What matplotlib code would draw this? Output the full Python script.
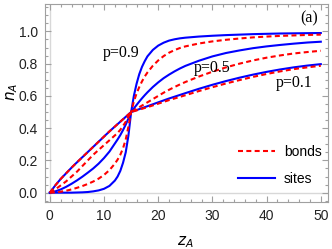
import matplotlib
matplotlib.use("Agg")
import matplotlib.pyplot as plt
from matplotlib.ticker import MultipleLocator
from matplotlib.lines import Line2D

# values
z_a = [0, 1, 2, 3, 4, 5, 6, 7, 8, 9, 10, 11, 12, 12.5, 13, 13.5, 14, 14.5, 15,
       15.5, 16, 16.5, 17, 17.5, 18, 19, 20, 21, 22, 23, 24, 25, 27.5, 30, 32.5,
       35, 37.5, 40, 42.5, 45, 47.5, 50]

sites_p01 = [0, 0.045, 0.085, 0.12, 0.155, 0.188, 0.22, 0.252, 0.284, 0.316, 0.348,
             0.38, 0.41, 0.425, 0.44, 0.455, 0.47, 0.485, 0.5,
             0.506, 0.512, 0.518, 0.524, 0.53, 0.536, 0.548, 0.56, 0.572, 0.584, 0.595,
             0.606, 0.617, 0.644, 0.669, 0.692, 0.713, 0.732, 0.749, 0.764, 0.777,
             0.788, 0.797]
bonds_p01 = [0, 0.045, 0.085, 0.12, 0.155, 0.188, 0.22, 0.252, 0.284, 0.316, 0.348,
             0.38, 0.41, 0.425, 0.44, 0.455, 0.47, 0.485, 0.5,
             0.505, 0.51, 0.515, 0.52, 0.525, 0.53, 0.541, 0.552, 0.563, 0.574, 0.584,
             0.594, 0.604, 0.63, 0.654, 0.677, 0.698, 0.718, 0.736, 0.752, 0.766,
             0.777, 0.787]
sites_p05 = [0, 0.008, 0.02, 0.036, 0.055, 0.076, 0.099, 0.124, 0.15, 0.18, 0.215,
             0.255, 0.305, 0.33, 0.357, 0.388, 0.422, 0.46, 0.5,
             0.522, 0.544, 0.565, 0.585, 0.604, 0.622, 0.655, 0.684, 0.71, 0.732, 0.752,
             0.77, 0.786, 0.818, 0.845, 0.866, 0.882, 0.896, 0.907, 0.916, 0.924,
             0.931, 0.936]
bonds_p05 = [0, 0.02, 0.045, 0.07, 0.1, 0.13, 0.165, 0.2, 0.235, 0.265, 0.295,
             0.325, 0.355, 0.37, 0.39, 0.413, 0.44, 0.47, 0.5,
             0.51, 0.52, 0.53, 0.54, 0.55, 0.56, 0.58, 0.6, 0.62, 0.638, 0.655,
             0.671, 0.686, 0.72, 0.75, 0.777, 0.8, 0.82, 0.837, 0.851, 0.863,
             0.872, 0.88]
sites_p09 = [0, 0, 0, 0, 0, 0.001, 0.002, 0.004, 0.008, 0.014, 0.024,
             0.042, 0.075, 0.1, 0.135, 0.185, 0.25, 0.355, 0.5,
             0.6, 0.675, 0.735, 0.78, 0.815, 0.845, 0.885, 0.912, 0.93, 0.943, 0.951,
             0.957, 0.961, 0.968, 0.973, 0.977, 0.98, 0.983, 0.985, 0.987, 0.988,
             0.989, 0.99]
bonds_p09 = [0, 0.002, 0.006, 0.012, 0.02, 0.03, 0.041, 0.054, 0.069, 0.087, 0.11,
             0.14, 0.18, 0.205, 0.235, 0.275, 0.33, 0.41, 0.5,
             0.565, 0.615, 0.655, 0.69, 0.72, 0.745, 0.787, 0.82, 0.847, 0.868, 0.884,
             0.897, 0.907, 0.925, 0.938, 0.948, 0.956, 0.963, 0.968, 0.972, 0.975,
             0.978, 0.98]

x_ticks = [0, 10, 20, 30, 40, 50]
y_ticks = [0.0, 0.2, 0.4, 0.6, 0.8, 1.0]

blue = '#0000ff'
red = '#ff0000'
frame = '#a0a0a0'
dash = (2.4, 1.6)

fig = plt.figure(figsize=(3.32, 2.49), dpi=100)
ax = fig.add_axes([0.1355, 0.19, 0.852, 0.794])

# light axis lines at x=0 and y=0
ax.axhline(0, color='#d8d8d8', lw=1.0, zorder=0)
ax.axvline(0, color='#d8d8d8', lw=1.0, zorder=0)

for s in [sites_p01, sites_p05, sites_p09]:
    ax.plot(z_a, s, color=blue, lw=1.5)
for b in [bonds_p01, bonds_p05, bonds_p09]:
    ax.plot(z_a, b, color=red, lw=1.5, dashes=dash)

ax.set_xlim(-0.9, 51.3)
ax.set_ylim(-0.056, 1.17)
ax.set_xticks(x_ticks)
ax.set_yticks(y_ticks)
ax.set_yticklabels(['%.1f' % v for v in y_ticks])
ax.xaxis.set_minor_locator(MultipleLocator(2))
ax.yaxis.set_minor_locator(MultipleLocator(0.05))
ax.tick_params(which='both', direction='in', top=True, right=True, color=frame,
               labelcolor='#222222', labelsize=10, width=0.8)
ax.tick_params(which='major', length=4, pad=5)
ax.tick_params(which='minor', length=2)
for lab in ax.get_xticklabels() + ax.get_yticklabels():
    lab.set_fontfamily('Liberation Sans')
for sp in ax.spines.values():
    sp.set_color(frame)
    sp.set_linewidth(0.8)

ax.set_xlabel('$z_A$', fontsize=11, va='center')
ax.set_ylabel('$n_A$', fontsize=11, va='center')
ax.xaxis.set_label_coords(0.495, -0.205)
ax.yaxis.set_label_coords(-0.117, 0.555)

serif = 'Liberation Serif'
ax.text(13.1, 0.868, 'p=0.9', family=serif, fontsize=11.5, ha='center', va='center')
ax.text(29.9, 0.775, 'p=0.5', family=serif, fontsize=11.5, ha='center', va='center')
ax.text(45.0, 0.68, 'p=0.1', family=serif, fontsize=11.5, ha='center', va='center')
ax.text(47.8, 1.08, '(a)', family=serif, fontsize=11.5, ha='center', va='center')

handles = [Line2D([], [], color=red, lw=1.5, dashes=dash),
           Line2D([], [], color=blue, lw=1.5)]
ax.legend(handles, ['bonds', 'sites'], loc='lower right', frameon=False,
          bbox_to_anchor=(1.022, 0.015), handlelength=2.7, handletextpad=0.6,
          labelspacing=0.95, prop={'family': 'Liberation Sans', 'size': 10})

fig.savefig('out.png', dpi=100)
